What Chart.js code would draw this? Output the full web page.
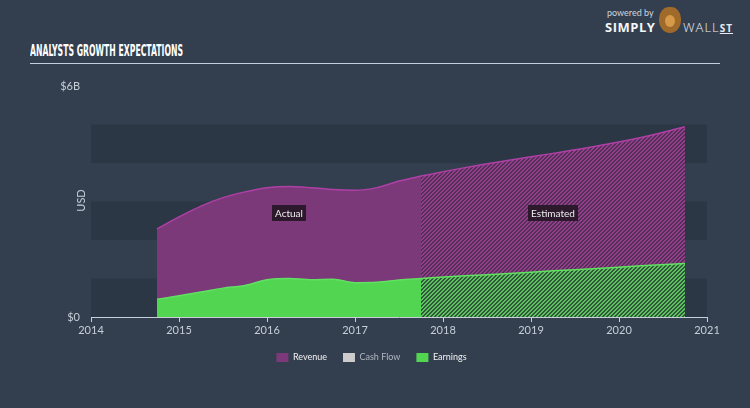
<!DOCTYPE html>
<html>
<head>
<meta charset="utf-8">
<script src="https://cdn.jsdelivr.net/npm/chart.js@4.4.1/dist/chart.umd.min.js"></script>
<style>
  html, body { margin: 0; padding: 0; background: #333f4f; }
  body { width: 750px; height: 408px; position: relative; overflow: hidden; font-family: Lato, "Open Sans", sans-serif; }
  #title { position: absolute; left: 30px; top: 43px; color: #ffffff; font-family: "DejaVu Sans Condensed", "Liberation Sans Narrow", sans-serif; font-weight: bold; font-size: 15px; white-space: nowrap; transform-origin: 0 0; line-height: 16px; }
  #rule { position: absolute; left: 30px; top: 63px; width: 690px; height: 1px; background: #c3cedb; }
  #logo { position: absolute; left: 605px; top: 7px; color: #fff; }
  #powered { position: absolute; left: 2px; top: 0px; font-size: 9px; color: #cfd6de; white-space: nowrap; }
  #simply { position: absolute; left: 0px; top: 11px; font-size: 13px; font-weight: bold; letter-spacing: 0.5px; color: #f4f6f8; white-space: nowrap; font-family: "Open Sans", sans-serif; }
  #wall { position: absolute; left: 78px; top: 11px; font-size: 13px; letter-spacing: 1px; color: #e8ecf0; white-space: nowrap; font-family: "Open Sans", sans-serif; font-weight: 300; }
  #wall u { font-size: 10px; font-weight: bold; text-decoration: underline; }
  #bison { position: absolute; left: 54px; top: 0px; width: 22px; height: 26px; border-radius: 45% 45% 50% 50%; background: #a06a2a; }
  #bison:after { content: ""; position: absolute; left: 6px; top: 8px; width: 10px; height: 12px; border-radius: 50%; background: #d79a4a; }
  #wrap { position: absolute; left: 0; top: 0; width: 750px; height: 408px; }
</style>
</head>
<body>
<div id="title">ANALYSTS GROWTH EXPECTATIONS</div>
<div id="rule"></div>
<div id="logo">
  <div id="powered">powered by</div>
  <div id="simply">SIMPLY</div>
  <div id="bison"></div>
  <div id="wall">WALL<u>ST</u></div>
</div>
<div id="wrap"><canvas id="c" width="750" height="408"></canvas></div>
<script>
// ---- data ----
const xTickYears = [2014, 2015, 2016, 2017, 2018, 2019, 2020, 2021];
const yTickValues = [0, 6];
const yTickLabels = ['$0', '$6B'];
const seriesNames = ['Revenue', 'Cash Flow', 'Earnings'];
const periodLabels = ['Actual', 'Estimated'];

const actualDates   = [2014.75, 2015.0, 2015.25, 2015.5, 2015.75, 2016.0, 2016.25, 2016.5, 2016.75, 2017.0, 2017.25, 2017.5, 2017.75];
const revenueActual = [2.29, 2.60, 2.88, 3.10, 3.25, 3.36, 3.39, 3.36, 3.31, 3.29, 3.36, 3.53, 3.66];
const earningsActual= [0.46, 0.55, 0.65, 0.75, 0.82, 0.97, 1.00, 0.97, 0.98, 0.89, 0.90, 0.96, 1.00];

const estDates      = [2017.75, 2018.25, 2018.75, 2019.25, 2019.75, 2020.25, 2020.75];
const revenueEst    = [3.66, 3.88, 4.07, 4.25, 4.44, 4.66, 4.94];
const earningsEst   = [1.00, 1.07, 1.13, 1.20, 1.26, 1.33, 1.39];

const cashFlow = [];

// ---- title fit ----
(function () {
  const t = document.getElementById('title');
  const w = t.getBoundingClientRect().width;
  t.style.transform = 'scale(' + (153 / w) + ',1)';
})();

// ---- helpers ----
function pts(xs, ys) { return xs.map((x, i) => ({ x: x, y: ys[i] })); }

function hatch(bg, fg) {
  const s = 4;
  const cv = document.createElement('canvas');
  cv.width = s; cv.height = s;
  const cx = cv.getContext('2d');
  const img = cx.createImageData(s, s);
  for (let y = 0; y < s; y++) for (let x = 0; x < s; x++) {
    const on = ((x + y) % s) < 2;
    const c = on ? fg : bg;
    const k = (y * s + x) * 4;
    img.data[k] = c[0]; img.data[k+1] = c[1]; img.data[k+2] = c[2]; img.data[k+3] = 255;
  }
  cx.putImageData(img, 0, 0);
  return document.getElementById('c').getContext('2d').createPattern(cv, 'repeat');
}

const REV_FILL = 'rgb(123,57,122)';
const REV_LINE = 'rgb(176,64,166)';
const EARN_FILL = 'rgb(82,214,82)';
const EARN_LINE = 'rgb(96,226,96)';
const CASH_FILL = 'rgb(204,204,204)';
const revPattern = hatch([84, 46, 88], [146, 64, 138]);
const earnPattern = hatch([46, 88, 58], [96, 192, 96]);

const bandsPlugin = {
  id: 'bands',
  beforeDatasetsDraw(chart) {
    const { ctx, chartArea, scales } = chart;
    const y = scales.y;
    ctx.save();
    ctx.fillStyle = 'rgba(36,46,60,0.45)';
    for (let v = 0; v < 6; v += 2) {
      const top = y.getPixelForValue(v + 1), bot = y.getPixelForValue(v);
      ctx.fillRect(chartArea.left, top, chartArea.right - chartArea.left, bot - top);
    }
    ctx.restore();
  }
};

const labelsPlugin = {
  id: 'periodLabels',
  afterDatasetsDraw(chart) {
    const { ctx, scales } = chart;
    const x = scales.x, y = scales.y;
    const spans = [[actualDates[0], actualDates[actualDates.length - 1]], [estDates[0], estDates[estDates.length - 1]]];
    ctx.save();
    ctx.font = '10px Lato, sans-serif';
    ctx.textAlign = 'center';
    ctx.textBaseline = 'middle';
    periodLabels.forEach((t, i) => {
      const cx = (x.getPixelForValue(spans[i][0]) + x.getPixelForValue(spans[i][1])) / 2;
      const cy = y.getPixelForValue(2.69);
      const w = ctx.measureText(t).width + 6;
      ctx.fillStyle = 'rgb(44,26,44)';
      ctx.fillRect(Math.round(cx - w / 2), Math.round(cy - 8), Math.round(w), 16);
      ctx.fillStyle = '#eeeeee';
      ctx.fillText(t, cx, cy + 0.5);
    });
    // axis title
    ctx.translate(81, (y.top + y.bottom) / 2 - 1);
    ctx.rotate(-Math.PI / 2);
    ctx.fillStyle = '#c6ced8';
    ctx.font = '11px Lato, sans-serif';
    ctx.fillText('USD', 0, 0);
    ctx.restore();
  }
};

const commonLine = { pointRadius: 0, borderWidth: 1.5, cubicInterpolationMode: 'monotone', fill: 'origin' };

new Chart(document.getElementById('c'), {
  type: 'line',
  data: {
    datasets: [
      Object.assign({ label: 'Earnings', data: pts(actualDates, earningsActual), backgroundColor: EARN_FILL, borderColor: EARN_LINE, order: 1 }, commonLine),
      Object.assign({ label: 'Earnings est', data: pts(estDates, earningsEst), backgroundColor: earnPattern, borderColor: EARN_LINE, order: 1 }, commonLine),
      Object.assign({ label: 'Cash Flow', data: cashFlow, backgroundColor: CASH_FILL, borderColor: CASH_FILL, order: 2 }, commonLine),
      Object.assign({ label: 'Revenue', data: pts(actualDates, revenueActual), backgroundColor: REV_FILL, borderColor: REV_LINE, order: 3 }, commonLine),
      Object.assign({ label: 'Revenue est', data: pts(estDates, revenueEst), backgroundColor: revPattern, borderColor: REV_LINE, order: 3 }, commonLine)
    ]
  },
  options: {
    responsive: false,
    animation: false,
    events: [],
    layout: { padding: { left: 36, right: 43, top: 86, bottom: 36 } },
    plugins: {
      tooltip: { enabled: false },
      legend: {
        position: 'bottom',
        labels: {
          boxWidth: 12, boxHeight: 9, padding: 16,
          font: { family: 'Lato, sans-serif', size: 9 },
          generateLabels() {
            const fills = [REV_FILL, CASH_FILL, EARN_FILL];
            const cols = ['#f2f2f2', '#aeb6c0', '#f2f2f2'];
            return seriesNames.map((n, i) => ({ text: n, fillStyle: fills[i], strokeStyle: fills[i], lineWidth: 0, fontColor: cols[i], hidden: false, datasetIndex: i }));
          }
        }
      }
    },
    scales: {
      x: {
        type: 'linear', min: xTickYears[0], max: xTickYears[xTickYears.length - 1],
        afterBuildTicks(s) { s.ticks = xTickYears.map(v => ({ value: v })); },
        afterFit(s) { s.height = 20; },
        ticks: { color: '#c6ced8', font: { family: 'Lato, sans-serif', size: 11 }, padding: 2, maxRotation: 0, autoSkip: false, callback: v => String(v) },
        grid: { display: true, drawOnChartArea: false, drawTicks: true, tickLength: 5, color: '#c6ced8' },
        border: { display: true, color: '#c6ced8', width: 1 }
      },
      y: {
        type: 'linear', min: 0, max: 6,
        afterBuildTicks(s) { s.ticks = yTickValues.map(v => ({ value: v })); },
        afterFit(s) { s.width = 55; },
        ticks: { color: '#c6ced8', font: { family: 'Lato, sans-serif', size: 11 }, padding: 11, callback: (v) => yTickLabels[yTickValues.indexOf(v)] },
        grid: { display: false, drawTicks: false },
        border: { display: false }
      }
    }
  },
  plugins: [bandsPlugin, labelsPlugin]
});
</script>
</body>
</html>
